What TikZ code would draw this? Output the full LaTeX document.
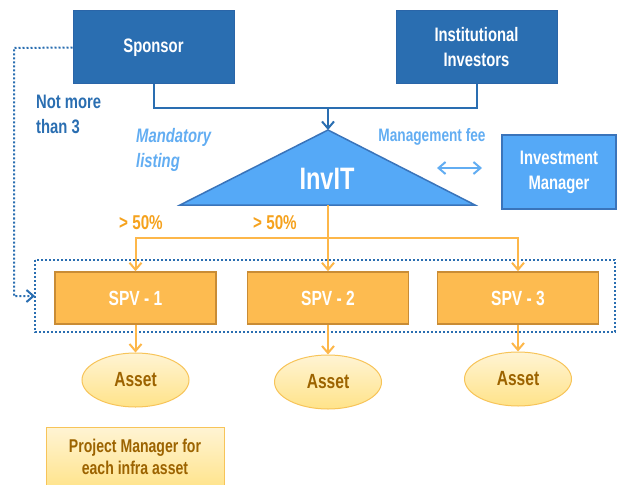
\documentclass[tikz,border=0pt]{standalone}
\usepackage{fontspec}
\setmainfont{Liberation Sans}[FakeStretch=0.76]
\usetikzlibrary{arrows.meta,shapes.geometric}
\definecolor{dblue}{HTML}{2A6EB1}
\definecolor{dblueline}{HTML}{2A65A8}
\definecolor{lblue}{HTML}{55A9F7}
\definecolor{lblueline}{HTML}{3A74BA}
\definecolor{ltext}{HTML}{62ADF2}
\definecolor{orfill}{HTML}{FDBB50}
\definecolor{orline}{HTML}{C98C35}
\definecolor{orarrow}{HTML}{FDB74A}
\definecolor{ortext}{HTML}{F5A21E}
\definecolor{astop}{HTML}{FFF4D4}
\definecolor{asbot}{HTML}{FFE389}
\definecolor{asline}{HTML}{F7C459}
\definecolor{brown}{HTML}{9C6300}
\tikzset{
  x=1pt,y=-1pt,
  txt/.style={font=\fontsize{19.5}{25}\selectfont\bfseries},
  darkbox/.style={txt,draw=dblueline,fill=dblue,text=white,line width=1pt,minimum width=161pt,minimum height=73pt,inner sep=0pt,align=center},
  mgrbox/.style={txt,draw=lblueline,fill=lblue,text=white,line width=1.5pt,minimum width=114pt,minimum height=74pt,inner sep=0pt,align=center},
  spvbox/.style={txt,font=\fontsize{20.5}{22}\selectfont\bfseries,draw=orline,fill=orfill,text=white,line width=1.5pt,minimum width=161pt,minimum height=52pt,inner sep=0pt},
  asset/.style={txt,font=\fontsize{20.5}{22}\selectfont\bfseries,ellipse,draw=asline,top color=astop,bottom color=asbot,text=brown,line width=1pt,minimum width=107pt,minimum height=54pt,inner sep=0pt},
  bline/.style={draw=dblue,line width=2pt},
  oline/.style={draw=orarrow,line width=2pt},
  barb/.tip={Straight Barb[length=7pt,width=12pt,line width=2pt]},
}
\begin{document}
\begin{tikzpicture}
\useasboundingbox (0,0) rectangle (617,484);
% top boxes
\node[darkbox] (sponsor) at (153.5,47.5) {Sponsor};
\node[darkbox] (inst) at (476.5,47.5) {Institutional\\Investors};
% triangle
\coordinate (apex) at (328,130);
\coordinate (tl) at (180,205);
\coordinate (tr) at (475,205);
\coordinate (tb) at (328,205);
\draw[fill=lblue,draw=lblueline,line width=1.5pt,line join=miter] (apex) -- (tr) -- (tl) -- cycle;
\node[txt,font=\fontsize{31}{34}\selectfont\bfseries,text=white] (invit) at (327,179) {InvIT};
% junction
\coordinate (jn) at (328,108);
\draw[bline] (sponsor.south) |- (jn) -| (inst.south);
\draw[bline,-barb] (jn) -- (apex);
% labels
\node[txt,text=dblue,anchor=west,align=left,inner sep=0pt] (nm) at (36,114.5) {Not more\\than 3};
\node[txt,text=ltext,anchor=west,align=left,inner sep=0pt,font=\fontsize{19.5}{25}\selectfont\bfseries\itshape] (ml) at (136,149.5) {Mandatory\\listing};
\node[txt,font=\fontsize{18}{20}\selectfont\bfseries,text=ltext,inner sep=0pt] (mf) at (432,137) {Management fee};
% investment manager
\node[mgrbox] (mgr) at (559,172) {Investment\\Manager};
\coordinate (fa) at (437,168);
\coordinate (fb) at (482,168);
\draw[draw=ltext,line width=2pt,barb-barb] (fa) -- (fb);
% dotted group
\draw[dblue,line width=2pt,dotted] (35,260) rectangle (615,332);
\coordinate (dc1) at (14,48);
\coordinate (dc2) at (14,296);
\coordinate (dc3) at (35,296);
\draw[dblue,line width=2pt,dotted,-barb] (sponsor.west) -- (dc1) -- (dc2) -- (dc3);
% SPVs
\node[spvbox] (spv1) at (135.5,298) {SPV - 1};
\node[spvbox] (spv2) at (328,298) {SPV - 2};
\node[spvbox] (spv3) at (518,298) {SPV - 3};
\coordinate (ob) at (328,238);
\draw[oline] (tb) -- (ob);
\draw[oline,-barb] (ob) -- (spv2.north);
\draw[oline,-barb] (ob) -| (spv1.north);
\draw[oline,-barb] (ob) -| (spv3.north);
\node[txt,font=\fontsize{20}{22}\selectfont\bfseries,text=ortext,inner sep=0pt] (p1) at (141,223) {> 50\%};
\node[txt,font=\fontsize{20}{22}\selectfont\bfseries,text=ortext,inner sep=0pt] (p2) at (275,223) {> 50\%};
% assets
\node[asset] (a1) at (135.5,380) {Asset};
\node[asset] (a2) at (328,382) {Asset};
\node[asset] (a3) at (518,379) {Asset};
\foreach \i in {1,2,3}{
  \draw[oline,-barb] (spv\i.south) -- (a\i.north);
}
% project manager
\draw[draw=asline,line width=1pt,top color=astop,bottom color=asbot] (46,427) rectangle (224,490);
\node[txt,font=\fontsize{18.5}{22}\selectfont\bfseries,text=brown,align=center,inner sep=0pt] (pm) at (135,456.5) {Project Manager for\\each infra asset};
\end{tikzpicture}
\end{document}
